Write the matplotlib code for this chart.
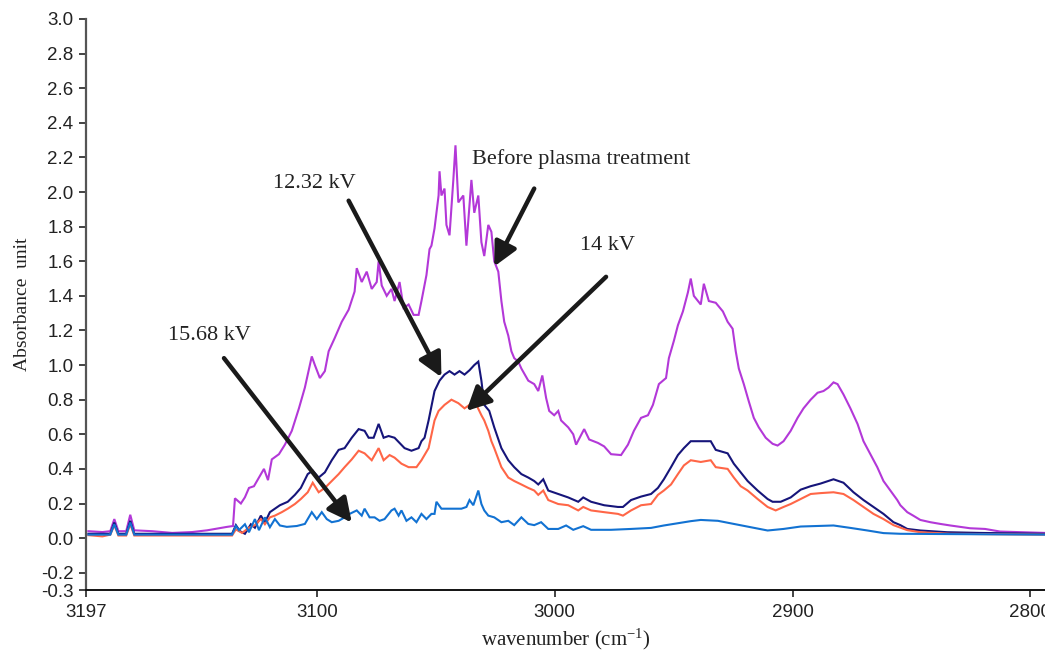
import numpy as np
import matplotlib
matplotlib.use("Agg")
import matplotlib.pyplot as plt

serif = "Liberation Serif"
plt.rcParams["mathtext.fontset"] = "custom"
plt.rcParams["mathtext.rm"] = serif
plt.rcParams["mathtext.it"] = serif

# ---- FTIR absorbance spectra (C-H stretching region) ----
wn_before = [3196.0, 3190.1, 3186.8, 3185.1, 3183.4, 3180.1, 3178.4, 3176.7, 3169.2, 3160.8,
             3152.4, 3146.1, 3141.9, 3137.7, 3135.2, 3134.4, 3131.9, 3130.2, 3128.5, 3126.4,
             3124.7, 3122.2, 3120.5, 3118.9, 3115.9, 3113.4, 3110.5, 3107.5, 3105.0, 3102.1,
             3100.8, 3098.7, 3096.6, 3095.0, 3092.5, 3089.5, 3086.6, 3084.1, 3083.2, 3081.1,
             3079.0, 3076.9, 3074.8, 3074.0, 3072.7, 3070.6, 3068.6, 3067.3, 3065.2, 3063.5,
             3061.4, 3059.3, 3057.2, 3056.0, 3053.9, 3052.6, 3051.8, 3050.5, 3048.8, 3048.4,
             3047.6, 3046.3, 3045.5, 3044.2, 3042.6, 3041.7, 3040.5, 3038.4, 3037.1, 3035.0,
             3033.8, 3032.1, 3030.8, 3029.6, 3027.9, 3026.6, 3025.4, 3023.7, 3022.4, 3021.2,
             3019.5, 3018.2, 3017.0, 3015.3, 3014.0, 3011.1, 3008.6, 3006.9, 3005.2, 3003.6,
             3002.3, 3000.2, 2998.5, 2997.3, 2994.3, 2992.2, 2991.0, 2987.6, 2985.5, 2981.8,
             2979.2, 2976.3, 2972.1, 2969.2, 2966.7, 2963.7, 2960.8, 2958.7, 2956.2, 2953.2,
             2952.0, 2949.9, 2948.2, 2946.1, 2944.0, 2942.8, 2941.5, 2938.6, 2937.3, 2935.2,
             2932.3, 2929.3, 2927.3, 2925.2, 2923.9, 2922.6, 2920.5, 2918.4, 2916.3, 2914.2,
             2911.3, 2908.4, 2906.3, 2903.8, 2900.8, 2897.9, 2895.4, 2892.4, 2889.5, 2887.0,
             2884.9, 2882.8, 2881.1, 2878.6, 2875.7, 2872.7, 2870.2, 2867.3, 2864.4, 2861.8,
             2858.9, 2856.0, 2854.7, 2851.8, 2849.3, 2846.3, 2842.1, 2837.9, 2833.7, 2825.4,
             2819.1, 2812.8, 2793.9]
abs_before = [0.04, 0.035, 0.04, 0.11, 0.04, 0.04, 0.135, 0.045, 0.04, 0.03,
              0.035, 0.045, 0.055, 0.065, 0.07, 0.23, 0.20, 0.236, 0.29, 0.30,
              0.34, 0.40, 0.335, 0.455, 0.485, 0.54, 0.62, 0.75, 0.87, 1.05,
              1.00, 0.925, 0.965, 1.08, 1.155, 1.25, 1.32, 1.425, 1.56, 1.48,
              1.54, 1.44, 1.48, 1.60, 1.46, 1.40, 1.44, 1.37, 1.48, 1.33,
              1.35, 1.29, 1.29, 1.37, 1.52, 1.67, 1.69, 1.79, 1.98, 2.12,
              1.98, 2.02, 1.81, 1.75, 2.07, 2.27, 1.94, 1.98, 1.69, 2.07,
              1.88, 1.98, 1.71, 1.63, 1.81, 1.77, 1.60, 1.54, 1.37, 1.25,
              1.17, 1.08, 1.04, 1.02, 0.98, 0.91, 0.89, 0.85, 0.94, 0.81,
              0.735, 0.71, 0.735, 0.68, 0.64, 0.60, 0.54, 0.63, 0.57, 0.55,
              0.53, 0.485, 0.48, 0.54, 0.62, 0.695, 0.71, 0.77, 0.89, 0.925,
              1.04, 1.14, 1.23, 1.31, 1.42, 1.50, 1.40, 1.35, 1.47, 1.37,
              1.36, 1.31, 1.25, 1.21, 1.08, 0.98, 0.89, 0.79, 0.695, 0.64,
              0.58, 0.545, 0.535, 0.56, 0.62, 0.695, 0.75, 0.80, 0.84, 0.85,
              0.87, 0.90, 0.89, 0.83, 0.75, 0.66, 0.56, 0.485, 0.41, 0.33,
              0.275, 0.22, 0.19, 0.15, 0.13, 0.105, 0.092, 0.082, 0.073, 0.057,
              0.053, 0.038, 0.03]

wn_1232 = [3196.0, 3186.8, 3185.1, 3183.4, 3180.1, 3178.4, 3176.7, 3135.6, 3134.0, 3132.3,
           3130.2, 3127.7, 3126.0, 3123.5, 3121.8, 3119.7, 3117.6, 3115.5, 3112.2, 3109.2,
           3106.7, 3103.8, 3101.7, 3099.2, 3096.6, 3093.7, 3090.8, 3088.3, 3085.3, 3082.4,
           3079.9, 3078.2, 3076.1, 3074.0, 3071.9, 3069.8, 3067.3, 3065.2, 3063.1, 3060.2,
           3057.2, 3056.0, 3054.7, 3053.0, 3050.5, 3048.4, 3046.3, 3044.2, 3042.1, 3040.0,
           3037.9, 3035.8, 3033.8, 3032.1, 3030.8, 3029.6, 3027.5, 3025.4, 3022.4, 3019.5,
           3017.0, 3014.0, 3011.1, 3008.6, 3006.9, 3004.8, 3002.7, 2998.5, 2994.3, 2990.1,
           2988.0, 2984.7, 2979.2, 2973.4, 2971.3, 2967.9, 2963.7, 2959.5, 2956.6, 2954.1,
           2951.1, 2948.2, 2945.7, 2942.8, 2938.6, 2934.4, 2932.3, 2927.3, 2924.7, 2921.8,
           2918.9, 2914.7, 2910.5, 2908.4, 2905.0, 2900.8, 2896.6, 2892.4, 2888.3, 2882.8,
           2878.6, 2874.4, 2870.2, 2866.0, 2861.8, 2857.6, 2854.7, 2851.8, 2846.3, 2835.0,
           2821.2, 2793.9]
abs_1232 = [0.025, 0.025, 0.09, 0.025, 0.025, 0.10, 0.025, 0.025, 0.075, 0.04,
            0.025, 0.08, 0.06, 0.13, 0.09, 0.15, 0.17, 0.19, 0.21, 0.25,
            0.29, 0.37, 0.39, 0.35, 0.38, 0.45, 0.51, 0.52, 0.58, 0.63,
            0.62, 0.58, 0.58, 0.66, 0.58, 0.59, 0.58, 0.55, 0.52, 0.505,
            0.52, 0.56, 0.58, 0.68, 0.85, 0.91, 0.945, 0.965, 0.945, 0.965,
            0.945, 0.97, 1.00, 1.02, 0.91, 0.77, 0.735, 0.64, 0.52, 0.45,
            0.41, 0.37, 0.35, 0.33, 0.31, 0.34, 0.275, 0.255, 0.235, 0.21,
            0.235, 0.21, 0.19, 0.18, 0.18, 0.22, 0.24, 0.255, 0.29, 0.34,
            0.41, 0.48, 0.52, 0.56, 0.56, 0.56, 0.51, 0.49, 0.43, 0.38,
            0.33, 0.275, 0.226, 0.21, 0.21, 0.235, 0.28, 0.30, 0.315, 0.34,
            0.32, 0.265, 0.22, 0.18, 0.14, 0.092, 0.075, 0.053, 0.044, 0.034,
            0.03, 0.025]

wn_14 = [3196.0, 3190.1, 3186.8, 3185.1, 3183.4, 3180.1, 3178.4, 3176.7, 3135.6, 3134.0,
         3131.4, 3128.5, 3126.0, 3123.5, 3121.8, 3119.7, 3117.6, 3114.7, 3112.2, 3109.2,
         3106.7, 3103.8, 3101.7, 3099.2, 3096.6, 3093.7, 3090.8, 3088.3, 3085.3, 3082.4,
         3079.9, 3076.9, 3074.0, 3071.9, 3069.4, 3067.3, 3064.4, 3061.4, 3058.1, 3056.0,
         3053.0, 3050.5, 3048.8, 3046.3, 3043.4, 3040.5, 3037.9, 3036.3, 3035.0, 3032.9,
         3030.8, 3029.6, 3027.9, 3026.6, 3025.4, 3022.4, 3019.5, 3017.0, 3014.0, 3011.1,
         3008.6, 3006.9, 3004.8, 3002.7, 2998.5, 2994.3, 2990.1, 2988.0, 2984.7, 2979.2,
         2973.4, 2971.3, 2967.9, 2963.7, 2959.5, 2956.6, 2954.1, 2951.1, 2948.2, 2945.7,
         2942.8, 2938.6, 2934.4, 2932.3, 2927.3, 2924.7, 2921.8, 2918.9, 2914.7, 2910.5,
         2907.1, 2903.8, 2900.8, 2896.6, 2892.4, 2888.3, 2882.8, 2878.6, 2874.4, 2870.2,
         2866.0, 2861.8, 2857.6, 2851.8, 2846.3, 2833.7, 2793.9]
abs_14 = [0.017, 0.01, 0.02, 0.075, 0.015, 0.015, 0.08, 0.015, 0.015, 0.05,
          0.03, 0.06, 0.075, 0.11, 0.08, 0.12, 0.13, 0.15, 0.17, 0.197,
          0.226, 0.265, 0.32, 0.265, 0.29, 0.33, 0.37, 0.41, 0.455, 0.505,
          0.49, 0.45, 0.52, 0.45, 0.48, 0.465, 0.43, 0.41, 0.41, 0.45,
          0.52, 0.68, 0.735, 0.77, 0.80, 0.78, 0.75, 0.765, 0.78, 0.77,
          0.71, 0.68, 0.62, 0.56, 0.52, 0.41, 0.35, 0.33, 0.31, 0.29,
          0.275, 0.25, 0.275, 0.22, 0.197, 0.19, 0.16, 0.18, 0.16, 0.15,
          0.14, 0.13, 0.16, 0.19, 0.197, 0.25, 0.275, 0.31, 0.37, 0.42,
          0.45, 0.44, 0.45, 0.41, 0.40, 0.35, 0.30, 0.275, 0.226, 0.18,
          0.16, 0.18, 0.197, 0.226, 0.255, 0.26, 0.265, 0.255, 0.22, 0.18,
          0.14, 0.11, 0.075, 0.046, 0.034, 0.025, 0.02]

wn_1568 = [3196.0, 3186.8, 3185.1, 3183.4, 3180.1, 3178.4, 3176.7, 3135.6, 3134.0, 3132.7,
           3130.2, 3128.5, 3126.0, 3124.3, 3121.8, 3119.7, 3117.6, 3115.5, 3112.6, 3108.4,
           3105.0, 3102.1, 3100.0, 3097.9, 3095.8, 3093.7, 3090.8, 3088.3, 3086.2, 3083.2,
           3081.1, 3079.9, 3077.8, 3075.7, 3073.6, 3071.5, 3068.6, 3067.3, 3065.6, 3064.4,
           3062.3, 3060.2, 3058.1, 3056.0, 3053.9, 3051.8, 3050.5, 3049.7, 3047.6, 3039.2,
           3037.1, 3035.8, 3034.2, 3032.1, 3030.8, 3029.6, 3027.9, 3025.4, 3022.4, 3019.5,
           3017.0, 3014.0, 3011.1, 3008.6, 3005.7, 3002.7, 2998.5, 2995.2, 2992.2, 2988.0,
           2984.7, 2976.3, 2967.9, 2959.5, 2954.1, 2948.2, 2942.8, 2938.6, 2931.4, 2924.7,
           2917.6, 2910.5, 2903.8, 2896.6, 2882.8, 2875.7, 2868.5, 2861.8, 2854.7, 2793.9]
abs_1568 = [0.02, 0.02, 0.08, 0.02, 0.02, 0.09, 0.02, 0.02, 0.07, 0.046,
            0.08, 0.034, 0.11, 0.046, 0.12, 0.063, 0.11, 0.073, 0.065, 0.07,
            0.082, 0.15, 0.11, 0.15, 0.11, 0.092, 0.10, 0.12, 0.14, 0.16,
            0.13, 0.17, 0.12, 0.12, 0.10, 0.11, 0.16, 0.17, 0.13, 0.16,
            0.10, 0.12, 0.092, 0.14, 0.11, 0.14, 0.14, 0.21, 0.17, 0.17,
            0.18, 0.22, 0.19, 0.275, 0.197, 0.16, 0.13, 0.12, 0.092, 0.10,
            0.075, 0.12, 0.082, 0.075, 0.092, 0.053, 0.053, 0.073, 0.048, 0.069,
            0.048, 0.048, 0.053, 0.059, 0.073, 0.086, 0.098, 0.105, 0.10, 0.082,
            0.063, 0.044, 0.053, 0.067, 0.073, 0.059, 0.044, 0.029, 0.025, 0.02]

series = [
    ("Before plasma treatment", wn_before, abs_before, "#B338D8"),
    ("12.32 kV", wn_1232, abs_1232, "#16157A"),
    ("14 kV", wn_14, abs_14, "#FF6647"),
    ("15.68 kV", wn_1568, abs_1568, "#1272D2"),
]

x_ticks = [3197, 3100, 3000, 2900, 2800]
y_ticks = [-0.3, -0.2, 0.0, 0.2, 0.4, 0.6, 0.8, 1.0, 1.2, 1.4, 1.6, 1.8, 2.0,
           2.2, 2.4, 2.6, 2.8, 3.0]

fig = plt.figure(figsize=(10.45, 6.55), dpi=100)
ax = fig.add_axes([0.0823, 0.0992, 0.9177, 0.8718])

for name, wn, a, col in series:
    ax.plot(wn, a, color=col, lw=1.5, solid_joinstyle="miter", zorder=2)

ax.set_xlim(3197, 2793.9)
ax.set_ylim(-0.3, 3.0)
ax.set_xticks(x_ticks)
ax.set_xticklabels([str(t) for t in x_ticks])
ax.set_yticks(y_ticks)
ax.set_yticklabels([f"{t:.1f}" for t in y_ticks])

for s in ("top", "right"):
    ax.spines[s].set_visible(False)
ax.spines["left"].set_color("#555555")
ax.spines["left"].set_linewidth(1.6)
ax.spines["bottom"].set_color("#111111")
ax.spines["bottom"].set_linewidth(1.4)
ax.tick_params(axis="both", direction="out", length=5, width=1.2,
               labelsize=13.5, colors="#222222", labelcolor="#222222")
ax.tick_params(axis="x", pad=5)
ax.tick_params(axis="y", pad=4)
for lab in ax.get_xticklabels() + ax.get_yticklabels():
    lab.set_fontfamily("Liberation Sans")

ax.set_xlabel("wavenumber (cm$^{\\mathrm{-1}}$)", fontfamily=serif, fontsize=15,
              color="#222222", labelpad=4)
ax.set_ylabel("Absorbance  unit", fontfamily=serif, fontsize=14,
              color="#222222", labelpad=7)

arrow = dict(arrowstyle="-|>", color="#1a1a1a", lw=3.2, mutation_scale=36,
             shrinkA=0, shrinkB=0)

# label text, tail of arrow, arrow tip (data coordinates)
notes = [
    ("12.32 kV", (3100.8, 2.05), (3086.6, 1.95), (3047.6, 0.93)),
    ("Before plasma treatment", (2989.0, 2.19), (3008.6, 2.02), (3025.4, 1.57)),
    ("14 kV", (2978.0, 1.69), (2978.4, 1.51), (3037.1, 0.735)),
    ("15.68 kV", (3145.3, 1.17), (3139.0, 1.04), (3085.3, 0.09)),
]
for text, txy, tail, tip in notes:
    ax.text(txy[0], txy[1], text, ha="center", va="center",
            fontfamily=serif, fontsize=16, color="#222222")
    ax.annotate("", xy=tip, xytext=tail, arrowprops=arrow, zorder=5)

fig.savefig("out.png", dpi=100)
